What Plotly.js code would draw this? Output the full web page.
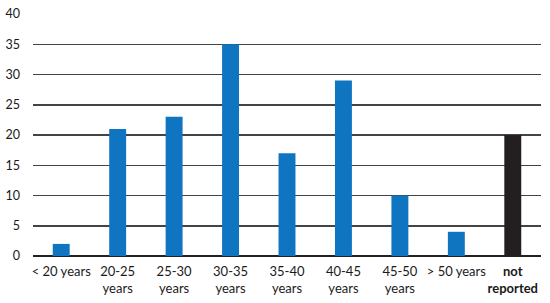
<!DOCTYPE html>
<html><head><meta charset="utf-8">
<script src="https://cdn.plot.ly/plotly-3.0.1.min.js"></script>
<style>html,body{margin:0;padding:0;background:#fff}#chart{width:550px;height:303px}</style>
</head><body><div id="chart"></div>
<script>
const categories = ["< 20 years", "20-25<br>years", "25-30<br>years", "30-35<br>years", "35-40<br>years", "40-45<br>years", "45-50<br>years", "> 50 years", "<b>not<br>reported</b>"];
const values = [2, 21, 23, 35, 17, 29, 10, 4, 20];
const barColors = ["#0F75C1","#0F75C1","#0F75C1","#0F75C1","#0F75C1","#0F75C1","#0F75C1","#0F75C1","#231F20"];
const yTicks = [0, 5, 10, 15, 20, 25, 30, 35, 40];

Plotly.newPlot('chart', [{
  type: 'bar',
  x: categories,
  y: values,
  marker: {color: barColors},
  width: 0.3,
  hoverinfo: 'none'
}], {
  width: 550, height: 303,
  margin: {l: 33, r: 9, t: 14, b: 47},
  paper_bgcolor: '#fff', plot_bgcolor: '#fff',
  font: {family: 'Lato, "Open Sans", sans-serif', size: 13, color: '#1a1a1a'},
  showlegend: false,
  xaxis: {type: 'category', tickangle: 0, showgrid: false, showline: false, ticks: '', ticklabelstandoff: 6, tickfont: {size: 13, color: '#1a1a1a'}},
  yaxis: {range: [0, 40], tickvals: yTicks, showgrid: true, gridcolor: '#444', gridwidth: 1.5, zeroline: true, zerolinecolor: '#222', zerolinewidth: 1.5, ticks: '', ticklabelstandoff: 12, tickfont: {size: 12.5, color: '#1a1a1a'}, fixedrange: true}
}, {staticPlot: true});
</script></body></html>
